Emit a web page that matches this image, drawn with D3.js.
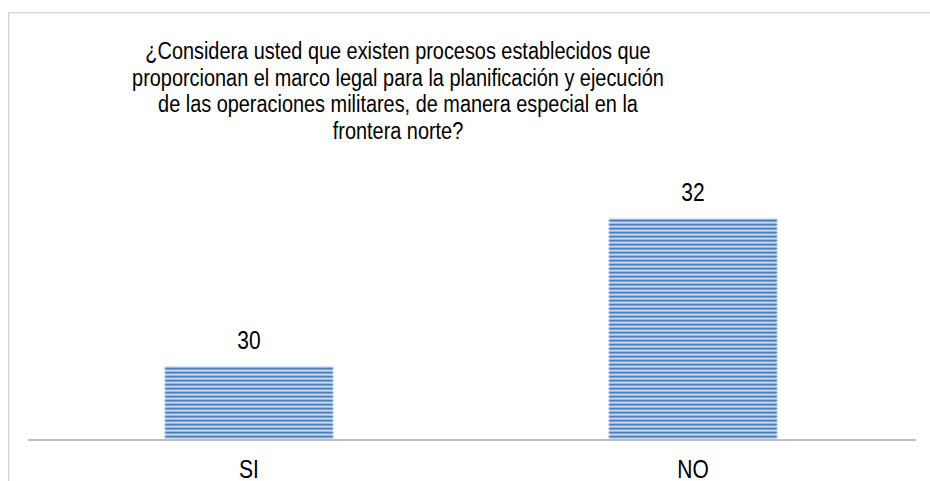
<!DOCTYPE html>
<html>
<head>
<meta charset="utf-8">
<script src="https://cdn.jsdelivr.net/npm/d3@7"></script>
<style>
  html, body { margin: 0; background: #fff; overflow: hidden; }
  svg { display: block; }
  text { font-family: "Liberation Sans", Arial, sans-serif; fill: #000; }
</style>
</head>
<body>
<svg id="mysvg"></svg>
<script>
const categories = ["SI", "NO"];
const values = [30, 32];
const titleLines = [
  "¿Considera usted que existen procesos establecidos que",
  "proporcionan el marco legal para la planificación y ejecución",
  "de las operaciones militares, de manera especial en la",
  "frontera norte?"
];

const width = 930, height = 481;
const svg = d3.select("#mysvg").attr("width", width).attr("height", height);

// stripe pattern for bars
const defs = svg.append("defs");
const pat = defs.append("pattern").attr("id", "stripes")
  .attr("patternUnits", "userSpaceOnUse").attr("width", 8).attr("height", 4);
[["#4a7dba", 0], ["#7fa3d4", 1], ["#c8d8ee", 2], ["#9ab6de", 3]].forEach(([c, y]) => {
  pat.append("rect").attr("x", 0).attr("y", y).attr("width", 8).attr("height", 1).attr("fill", c);
});

// chart frame (right and bottom edges lie outside the window)
svg.append("path").attr("d", "M8.75,481V12.75H930")
  .attr("fill", "none").attr("stroke", "#d9d9d9").attr("stroke-width", 1.5);

const x = d3.scaleBand().domain(categories).range([27, 915]).paddingInner(0.62).paddingOuter(0.31);
const y = d3.scaleLinear().domain([29, 33]).range([440, 144]);

// title
const title = svg.append("g").attr("transform", "translate(398,0)");
title.selectAll("text").data(titleLines).join("text")
  .attr("text-anchor", "middle")
  .attr("transform", (d, i) => `translate(0,${59 + i * 26.6}) scale(1,1.2)`)
  .style("font-size", "19.9px")
  .text(d => d);

const data = categories.map((c, i) => ({ cat: c, val: values[i] }));

svg.selectAll(".bar").data(data).join("rect").attr("class", "bar")
  .attr("x", d => x(d.cat)).attr("width", x.bandwidth())
  .attr("y", d => y(d.val)).attr("height", d => y(29) - y(d.val))
  .attr("fill", "url(#stripes)");

// faded bar edges
svg.selectAll(".edge").data(data).join("rect").attr("class", "edge")
  .attr("x", d => x(d.cat) + 0.5).attr("width", x.bandwidth() - 1)
  .attr("y", d => y(d.val) + 0.5).attr("height", d => y(29) - y(d.val) - 1)
  .attr("fill", "none").attr("stroke", "#fff").attr("stroke-opacity", 0.35);

// value labels
svg.selectAll(".val").data(data).join("text").attr("class", "val")
  .attr("text-anchor", "middle")
  .attr("transform", d => `translate(${x(d.cat) + x.bandwidth() / 2},${y(d.val) - 17}) scale(1,1.2)`)
  .style("font-size", "21px")
  .text(d => d.val);

// x axis
const xAxis = svg.append("g").attr("transform", `translate(0,${y(29)})`)
  .call(d3.axisBottom(x).tickSize(0).tickPadding(0));
xAxis.select(".domain").attr("stroke", "#bfbfbf").attr("stroke-width", 2)
  .attr("d", "M28,0H916");
xAxis.selectAll(".tick text").attr("dy", 0)
  .attr("transform", "translate(0,38) scale(1,1.2)")
  .style("font-size", "21px")
  .style("font-family", '"Liberation Sans", Arial, sans-serif')
  .attr("fill", "#000");
</script>
</body>
</html>
